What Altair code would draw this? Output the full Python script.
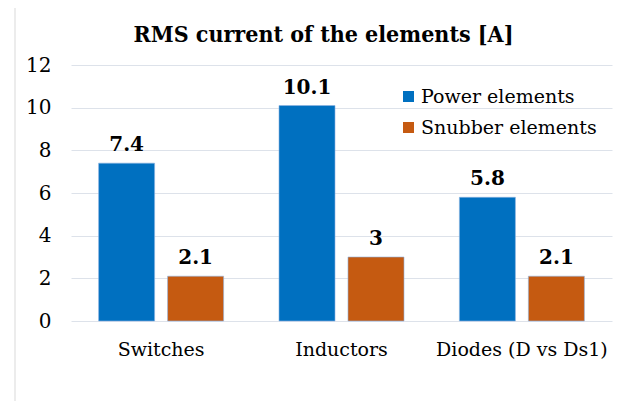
import altair as alt
import pandas as pd

categories = ["Switches", "Inductors", "Diodes (D vs Ds1)"]
series = ["Power elements", "Snubber elements"]
power_values = [7.4, 10.1, 5.8]
snubber_values = [2.1, 3.0, 2.1]
value_labels_power = ["7.4", "10.1", "5.8"]
value_labels_snubber = ["2.1", "3", "2.1"]
colors = ["#0070C0", "#C55A11"]

rows = []
for c, v, l in zip(categories, power_values, value_labels_power):
    rows.append({"category": c, "series": series[0], "value": v, "label": l})
for c, v, l in zip(categories, snubber_values, value_labels_snubber):
    rows.append({"category": c, "series": series[1], "value": v, "label": l})
df = pd.DataFrame(rows)

FONT = "DejaVu Serif"
FONT_C = "DejaVu Serif Condensed"

x_enc = alt.X("category:N", sort=categories,
              scale=alt.Scale(paddingInner=0.307, paddingOuter=0.153),
              axis=alt.Axis(title=None, labelAngle=0, ticks=False, domain=False,
                            labelFont=FONT, labelFontSize=19, labelColor="#000000",
                            labelPadding=19, labelLimit=400))
xoff = alt.XOffset("series:N", sort=series,
                   scale=alt.Scale(paddingInner=0.188, paddingOuter=0))

base = alt.Chart(df)

bars = base.mark_bar(stroke="#8FB4E3", strokeWidth=0.6).encode(
    x=x_enc,
    xOffset=xoff,
    y=alt.Y("value:Q", scale=alt.Scale(domain=[0, 12], nice=False),
            axis=alt.Axis(title=None, values=[0, 2, 4, 6, 8, 10, 12], ticks=False,
                          domain=False, grid=True, gridColor="#DDE2EA", gridWidth=1,
                          labelFont=FONT, labelFontSize=20, labelColor="#000000",
                          labelPadding=20)),
    color=alt.Color("series:N", sort=series,
                    scale=alt.Scale(domain=series, range=colors),
                    legend=alt.Legend(title=None, orient="none", legendX=328, legendY=22,
                                      symbolType="square", symbolSize=121,
                                      symbolStrokeWidth=0, labelFont=FONT,
                                      labelFontSize=19, labelColor="#000000",
                                      labelLimit=400,
                                      labelOffset=3, rowPadding=11, padding=0)),
)

texts = base.mark_text(font=FONT, fontSize=20, fontWeight="bold", color="#000000",
                       dy=-8, baseline="bottom").encode(
    x=alt.X("category:N", sort=categories),
    xOffset=xoff,
    y=alt.Y("value:Q"),
    text=alt.Text("label:N"),
)

border = alt.Chart(pd.DataFrame({"k": [0]})).mark_rule(color="#D9D9D9", strokeWidth=1).encode(
    x=alt.value(-56), y=alt.value(-57), y2=alt.value(336)
)

chart = alt.layer(bars, texts, border).properties(
    width=541, height=256,
    title=alt.TitleParams("RMS current of the elements [A]", font=FONT_C, fontSize=23,
                          fontWeight="bold", color="#000000", anchor="middle",
                          baseline="alphabetic", dx=-18, dy=57, offset=0),
    autosize=alt.AutoSizeParams(type="none"),
    padding={"left": 63, "top": 57, "right": 15, "bottom": 80},
).configure_view(stroke=None)

chart.save("out.html", embed_options={"renderer": "svg", "actions": False})
